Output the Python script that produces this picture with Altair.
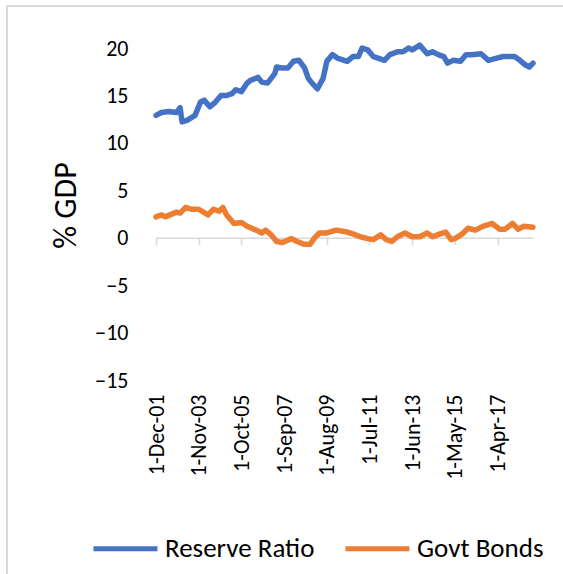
import altair as alt
import pandas as pd

series_names = ["Reserve Ratio", "Govt Bonds"]
series_colors = ["#4472C4", "#ED7D31"]

reserve_dates = ["2001-12", "2002-03", "2002-07", "2002-11", "2003-01", "2003-02", "2003-05", "2003-09",
                 "2003-12", "2004-02", "2004-05", "2004-08", "2004-11", "2005-02", "2005-05", "2005-07",
                 "2005-10", "2006-01", "2006-03", "2006-07", "2006-09", "2006-12", "2007-04", "2007-05",
                 "2007-08", "2007-11", "2008-02", "2008-05", "2008-08", "2008-10", "2008-12", "2009-03",
                 "2009-06", "2009-08", "2009-11", "2010-02", "2010-07", "2010-10", "2011-01", "2011-03",
                 "2011-06", "2011-09", "2011-12", "2012-03", "2012-06", "2012-10", "2013-01", "2013-04",
                 "2013-06", "2013-10", "2014-02", "2014-05", "2014-08", "2014-11", "2015-01", "2015-04",
                 "2015-08", "2015-11", "2016-02", "2016-07", "2016-11", "2017-03", "2017-07", "2018-01",
                 "2018-04", "2018-07", "2018-09", "2018-11"]
reserve_values = [12.9, 13.2, 13.3, 13.2, 13.7, 12.2, 12.4, 12.9,
                  14.3, 14.5, 13.8, 14.3, 15.0, 15.0, 15.2, 15.6,
                  15.4, 16.3, 16.6, 16.9, 16.4, 16.3, 17.3, 18.0,
                  17.9, 17.9, 18.6, 18.7, 17.9, 16.8, 16.3, 15.7,
                  16.8, 18.6, 19.3, 18.9, 18.6, 19.1, 19.1, 20.0,
                  19.8, 19.1, 18.9, 18.7, 19.3, 19.6, 19.6, 20.0,
                  19.8, 20.3, 19.4, 19.6, 19.3, 19.1, 18.4, 18.7,
                  18.6, 19.3, 19.3, 19.4, 18.7, 18.9, 19.1, 19.1,
                  18.7, 18.2, 18.0, 18.4]

bonds_dates = ["2001-12", "2002-03", "2002-05", "2002-11", "2003-01", "2003-04", "2003-07", "2003-11",
               "2004-04", "2004-07", "2004-10", "2004-12", "2005-02", "2005-06", "2005-10", "2006-01",
               "2006-06", "2006-09", "2006-11", "2007-02", "2007-05", "2007-08", "2008-01", "2008-04",
               "2008-08", "2008-11", "2009-01", "2009-04", "2009-08", "2010-01", "2010-07", "2010-10",
               "2011-02", "2011-06", "2011-09", "2012-01", "2012-04", "2012-07", "2012-10", "2013-02",
               "2013-06", "2013-10", "2014-02", "2014-05", "2014-09", "2014-12", "2015-03", "2015-05",
               "2015-09", "2015-12", "2016-04", "2016-08", "2017-01", "2017-05", "2017-08", "2017-12",
               "2018-03", "2018-06", "2018-11"]
bonds_values = [2.2, 2.4, 2.2, 2.7, 2.6, 3.2, 3.0, 3.0,
                2.4, 3.0, 2.8, 3.2, 2.4, 1.5, 1.6, 1.2,
                0.8, 0.5, 0.8, 0.3, -0.4, -0.5, -0.1, -0.4,
                -0.7, -0.7, -0.1, 0.5, 0.5, 0.8, 0.6, 0.4,
                0.1, -0.1, -0.2, 0.3, -0.2, -0.4, 0.1, 0.5,
                0.1, 0.1, 0.5, 0.1, 0.4, 0.6, -0.2, -0.1,
                0.4, 1.0, 0.8, 1.2, 1.5, 0.9, 0.9, 1.5,
                0.9, 1.2, 1.1]

tick_dates = ["2001-12", "2003-11", "2005-10", "2007-09", "2009-08", "2011-07", "2013-06", "2015-05", "2017-04"]
y_ticks = [-15, -10, -5, 0, 5, 10, 15, 20]
y_title = "% GDP"

rows = []
for d, v in zip(reserve_dates, reserve_values):
    rows.append({"date": d + "-01", "value": v, "series": series_names[0]})
for d, v in zip(bonds_dates, bonds_values):
    rows.append({"date": d + "-01", "value": v, "series": series_names[1]})
df = pd.DataFrame(rows)


def dt(s):
    y, m = s.split("-")
    return alt.DateTime(year=int(y), month=int(m), date=1, utc=True)


FONT = "Carlito, Lato, sans-serif"
W, H = 377, 332

x_scale = alt.Scale(domain=[dt(reserve_dates[0]), dt(reserve_dates[-1])])
y_scale = alt.Scale(domain=[-15, 20], nice=False, zero=False)

y_enc = alt.Y("value:Q", scale=y_scale,
              axis=alt.Axis(values=y_ticks, domain=False, ticks=False, grid=False,
                            labelPadding=28, labelFontSize=22, labelColor="#000", labelFont=FONT,
                            title=y_title, titleFontSize=32, titleFontWeight="normal",
                            titleColor="#000", titleFont=FONT, titleX=-74, titleY=157))

zero_axis = alt.Chart(df).mark_line(opacity=0).encode(
    x=alt.X("date:T", scale=x_scale,
            axis=alt.Axis(orient="bottom", values=[dt(d) for d in tick_dates], labels=False,
                          domain=True, domainColor="#d9d9d9", domainWidth=1.5,
                          ticks=True, tickColor="#d9d9d9", tickSize=7, tickWidth=1.5,
                          grid=False, title=None, offset=-142.3)),
    y=y_enc,
    detail="series:N",
)

lines = alt.Chart(df).mark_line(strokeWidth=5.5, strokeCap="round", strokeJoin="round").encode(
    x=alt.X("date:T", scale=x_scale,
            axis=alt.Axis(orient="bottom", values=[dt(d) for d in tick_dates],
                          labelExpr="'1-' + utcFormat(datum.value, '%b-%y')",
                          labelAngle=-90, labelAlign="right", labelBaseline="middle",
                          labelPadding=14, labelFontSize=22, labelColor="#000", labelFont=FONT,
                          domain=False, ticks=False, grid=False, title=None,
                          labelOverlap=False, labelFlush=False)),
    y=y_enc,
    color=alt.Color("series:N",
                    scale=alt.Scale(domain=series_names, range=series_colors),
                    legend=alt.Legend(orient="none", legendX=-65, legendY=466,
                                      direction="horizontal", title=None,
                                      symbolType="stroke", symbolSize=4096, symbolStrokeWidth=5,
                                      labelFontSize=27, labelFont=FONT, labelColor="#000",
                                      columnPadding=20, labelOffset=5)),
)

frame = alt.Chart(pd.DataFrame({"k": [0]})).mark_rect(
    fillOpacity=0, stroke="#d9d9d9", strokeWidth=2
).encode(x=alt.value(-149), x2=alt.value(700), y=alt.value(-42), y2=alt.value(800))

chart = alt.layer(frame, zero_axis, lines).resolve_axis(x="independent").properties(
    width=W, height=H,
    autosize=alt.AutoSizeParams(type="none"),
    padding={"left": 156, "top": 48, "right": 563 - 156 - W, "bottom": 574 - 48 - H},
    background="white",
).configure_view(stroke=None)

chart.save("out.html", embed_options={"renderer": "svg", "actions": False})
